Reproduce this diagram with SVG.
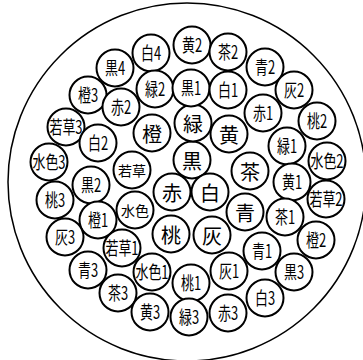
<svg xmlns="http://www.w3.org/2000/svg" width="363" height="360" viewBox="0 0 363 360">
<style>
.n circle{fill:#fff;stroke:#000;stroke-width:2}
.n text{font-family:"Noto Sans CJK JP","Noto Sans CJK SC",sans-serif;text-anchor:middle;dominant-baseline:central;fill:#000}
.big{font-size:20px}
.mid{font-size:14px}
.lab{font-size:18px}
</style>
<rect width="363" height="360" fill="#fff"/>
<circle id="outer" cx="187" cy="182" r="179" fill="none" stroke="#000" stroke-width="1.5"/>
<g id="connectors"/>
<g id="n_kuro" class="n" transform="translate(192,160)"><circle r="18.5"/><text class="big">黒</text></g>
<g id="n_midori" class="n" transform="translate(193,123)"><circle r="18.5"/><text class="big">緑</text></g>
<g id="n_dai" class="n" transform="translate(152,133)"><circle r="18.5"/><text class="big">橙</text></g>
<g id="n_ki" class="n" transform="translate(229,134)"><circle r="18.5"/><text class="big">黄</text></g>
<g id="n_wakakusa" class="n" transform="translate(132,170)"><circle r="18.5"/><text class="mid">若草</text></g>
<g id="n_mizuiro" class="n" transform="translate(135,210)"><circle r="18.5"/><text class="mid">水色</text></g>
<g id="n_aka" class="n" transform="translate(172,192)"><circle r="18.5"/><text class="big">赤</text></g>
<g id="n_shiro" class="n" transform="translate(210,192)"><circle r="18.5"/><text class="big">白</text></g>
<g id="n_cha" class="n" transform="translate(250,171)"><circle r="18.5"/><text class="big">茶</text></g>
<g id="n_ao" class="n" transform="translate(245,212)"><circle r="18.5"/><text class="big">青</text></g>
<g id="n_momo" class="n" transform="translate(171,234)"><circle r="18.5"/><text class="big">桃</text></g>
<g id="n_hai" class="n" transform="translate(212,235)"><circle r="18.5"/><text class="big">灰</text></g>
<g id="n_ki2" class="n" transform="translate(192,45)"><circle r="18.5"/><text class="lab" transform="scale(0.72,1)">黄2</text></g>
<g id="n_cha2" class="n" transform="translate(228,52)"><circle r="18.5"/><text class="lab" transform="scale(0.72,1)">茶2</text></g>
<g id="n_ao2" class="n" transform="translate(265,67)"><circle r="18.5"/><text class="lab" transform="scale(0.72,1)">青2</text></g>
<g id="n_shiro4" class="n" transform="translate(151,53)"><circle r="18.5"/><text class="lab" transform="scale(0.72,1)">白4</text></g>
<g id="n_kuro4" class="n" transform="translate(115,68)"><circle r="18.5"/><text class="lab" transform="scale(0.72,1)">黒4</text></g>
<g id="n_midori2" class="n" transform="translate(155,89)"><circle r="18.5"/><text class="lab" transform="scale(0.72,1)">緑2</text></g>
<g id="n_kuro1" class="n" transform="translate(191,88)"><circle r="18.5"/><text class="lab" transform="scale(0.72,1)">黒1</text></g>
<g id="n_shiro1" class="n" transform="translate(228,90)"><circle r="18.5"/><text class="lab" transform="scale(0.72,1)">白1</text></g>
<g id="n_hai2" class="n" transform="translate(294,90)"><circle r="18.5"/><text class="lab" transform="scale(0.72,1)">灰2</text></g>
<g id="n_dai3" class="n" transform="translate(88,95)"><circle r="18.5"/><text class="lab" transform="scale(0.72,1)">橙3</text></g>
<g id="n_aka2" class="n" transform="translate(121,107)"><circle r="18.5"/><text class="lab" transform="scale(0.72,1)">赤2</text></g>
<g id="n_aka1" class="n" transform="translate(263,113)"><circle r="18.5"/><text class="lab" transform="scale(0.72,1)">赤1</text></g>
<g id="n_momo2" class="n" transform="translate(317,121)"><circle r="18.5"/><text class="lab" transform="scale(0.72,1)">桃2</text></g>
<g id="n_wakakusa3" class="n" transform="translate(66,127)"><circle r="18.5"/><text class="lab" transform="scale(0.72,1)">若草3</text></g>
<g id="n_shiro2" class="n" transform="translate(98,143)"><circle r="18.5"/><text class="lab" transform="scale(0.72,1)">白2</text></g>
<g id="n_midori1" class="n" transform="translate(287,146)"><circle r="18.5"/><text class="lab" transform="scale(0.72,1)">緑1</text></g>
<g id="n_mizuiro3" class="n" transform="translate(49,162)"><circle r="18.5"/><text class="lab" transform="scale(0.72,1)">水色3</text></g>
<g id="n_mizuiro2" class="n" transform="translate(327,161)"><circle r="18.5"/><text class="lab" transform="scale(0.72,1)">水色2</text></g>
<g id="n_ki1" class="n" transform="translate(292,182)"><circle r="18.5"/><text class="lab" transform="scale(0.72,1)">黄1</text></g>
<g id="n_kuro2" class="n" transform="translate(91,185)"><circle r="18.5"/><text class="lab" transform="scale(0.72,1)">黒2</text></g>
<g id="n_wakakusa2" class="n" transform="translate(326,199)"><circle r="18.5"/><text class="lab" transform="scale(0.72,1)">若草2</text></g>
<g id="n_momo3" class="n" transform="translate(55,200)"><circle r="18.5"/><text class="lab" transform="scale(0.72,1)">桃3</text></g>
<g id="n_cha1" class="n" transform="translate(285,217)"><circle r="18.5"/><text class="lab" transform="scale(0.72,1)">茶1</text></g>
<g id="n_dai1" class="n" transform="translate(98,220)"><circle r="18.5"/><text class="lab" transform="scale(0.72,1)">橙1</text></g>
<g id="n_hai3" class="n" transform="translate(65,237)"><circle r="18.5"/><text class="lab" transform="scale(0.72,1)">灰3</text></g>
<g id="n_dai2" class="n" transform="translate(316,240)"><circle r="18.5"/><text class="lab" transform="scale(0.72,1)">橙2</text></g>
<g id="n_wakakusa1" class="n" transform="translate(122,248)"><circle r="18.5"/><text class="lab" transform="scale(0.72,1)">若草1</text></g>
<g id="n_ao1" class="n" transform="translate(262,251)"><circle r="18.5"/><text class="lab" transform="scale(0.72,1)">青1</text></g>
<g id="n_ao3" class="n" transform="translate(88,270)"><circle r="18.5"/><text class="lab" transform="scale(0.72,1)">青3</text></g>
<g id="n_mizuiro1" class="n" transform="translate(152,272)"><circle r="18.5"/><text class="lab" transform="scale(0.72,1)">水色1</text></g>
<g id="n_hai1" class="n" transform="translate(229,271)"><circle r="18.5"/><text class="lab" transform="scale(0.72,1)">灰1</text></g>
<g id="n_kuro3" class="n" transform="translate(294,272)"><circle r="18.5"/><text class="lab" transform="scale(0.72,1)">黒3</text></g>
<g id="n_momo1" class="n" transform="translate(191,283)"><circle r="18.5"/><text class="lab" transform="scale(0.72,1)">桃1</text></g>
<g id="n_cha3" class="n" transform="translate(118,293)"><circle r="18.5"/><text class="lab" transform="scale(0.72,1)">茶3</text></g>
<g id="n_shiro3" class="n" transform="translate(265,298)"><circle r="18.5"/><text class="lab" transform="scale(0.72,1)">白3</text></g>
<g id="n_ki3" class="n" transform="translate(150,312)"><circle r="18.5"/><text class="lab" transform="scale(0.72,1)">黄3</text></g>
<g id="n_aka3" class="n" transform="translate(228,313)"><circle r="18.5"/><text class="lab" transform="scale(0.72,1)">赤3</text></g>
<g id="n_midori3" class="n" transform="translate(189,317)"><circle r="18.5"/><text class="lab" transform="scale(0.72,1)">緑3</text></g>
</svg>
